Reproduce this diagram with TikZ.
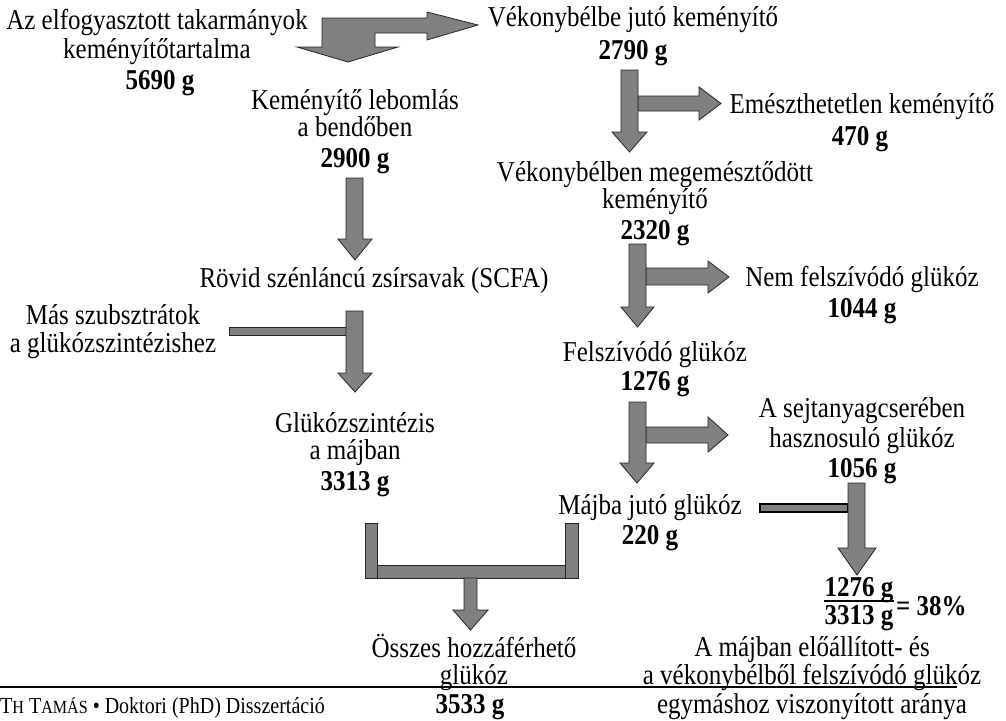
\documentclass[tikz,border=0pt]{standalone}
\usepackage{fontspec}
\setmainfont{Liberation Serif}
\newfontfamily\tallfont[FakeStretch=0.87]{Liberation Serif}
\definecolor{arrowgray}{RGB}{128,128,128}
\begin{document}
\begin{tikzpicture}[x=1pt,y=-1pt,
  txt/.style={anchor=base,inner sep=0pt,font=\tallfont\fontsize{28.75}{34}\selectfont},
  num/.style={anchor=base,inner sep=0pt,font=\tallfont\fontsize{28.75}{34}\selectfont\bfseries},
  foot/.style={anchor=base west,inner sep=0pt,font=\tallfont\fontsize{23}{27}\selectfont},
  blk/.style={fill=arrowgray,draw=black!85,line width=0.8pt,line join=miter},
  thinbar/.style={fill=arrowgray,draw=black,line width=1.4pt}]
\useasboundingbox (0,0) rectangle (1006,720);
% ---- texts
\node[txt] (t1a) at (157,29) {Az elfogyasztott takarmányok};
\node[txt] (t1b) at (157,58) {keményítőtartalma};
\node[num] (t1c) at (160,89) {5690 g};
\node[txt] (t2a) at (633,26) {Vékonybélbe jutó keményítő};
\node[num] (t2b) at (633,59) {2790 g};
\node[txt] (t3a) at (355,109) {Keményítő lebomlás};
\node[txt] (t3b) at (355,136) {a bendőben};
\node[num] (t3c) at (355,167) {2900 g};
\node[txt] (t4a) at (862,113) {Emészthetetlen keményítő};
\node[num] (t4b) at (860,145) {470 g};
\node[txt] (t5a) at (655,181) {Vékonybélben megemésztődött};
\node[txt] (t5b) at (655,208) {keményítő};
\node[num] (t5c) at (655,239) {2320 g};
\node[txt] (t6) at (374,287) {Rövid szénláncú zsírsavak (SCFA)};
\node[txt] (t7a) at (862,286) {Nem felszívódó glükóz};
\node[num] (t7b) at (862,317) {1044 g};
\node[txt] (t8a) at (113,324) {Más szubsztrátok};
\node[txt] (t8b) at (113,352) {a glükózszintézishez};
\node[txt] (t9a) at (655,361) {Felszívódó glükóz};
\node[num] (t9b) at (655,390) {1276 g};
\node[txt] (t10a) at (355,432) {Glükózszintézis};
\node[txt] (t10b) at (355,459) {a májban};
\node[num] (t10c) at (355,490) {3313 g};
\node[txt] (t11a) at (862,417) {A sejtanyagcserében};
\node[txt] (t11b) at (862,447) {hasznosuló glükóz};
\node[num] (t11c) at (862,477) {1056 g};
\node[txt] (t12a) at (650,514) {Májba jutó glükóz};
\node[num] (t12b) at (650,544) {220 g};
% fraction
\node[num] (fn) at (859,596) {1276 g};
\node[num] (fd) at (859,624) {3313 g};
\draw[line width=1.5pt] (fn.west |- 0,601) -- (fn.east |- 0,601);
\node[num,anchor=base west] (fe) at (896,615) {= 38\%};
\node[txt] (t14a) at (474,657) {Összes hozzáférhető};
\node[txt] (t14b) at (474,684) {glükóz};
\node[num] (t14c) at (470,713) {3533 g};
\node[txt] (t15a) at (812,656) {A májban előállított- és};
\node[txt] (t15b) at (812,684) {a vékonybélből felszívódó glükóz};
\node[txt] (t15c) at (812,713) {egymáshoz viszonyított aránya};
% footer
\draw[line width=2pt] (0,687) -- (957,687);
\node[foot] (ft) at (0,713) {T{\fontsize{18.5}{22}\selectfont H} T{\fontsize{18.5}{22}\selectfont AMÁS} • Doktori (PhD) Disszertáció};
% ---- block arrows
% top bent arrow
\draw[blk] (322,18) -- (427,18) -- (427,12) -- (478,25) -- (427,40) -- (427,33) -- (375,33) -- (375,47) -- (398,47) -- (348,62) -- (297,47) -- (322,47) -- cycle;
% 2790 branch
\draw[blk] (638,96) -- (699,96) -- (699,87) -- (721,103.5) -- (699,120) -- (699,111) -- (638,111) -- cycle;
\draw[blk] (621,70) -- (638,70) -- (638,132) -- (647,132) -- (629.5,152) -- (612,132) -- (621,132) -- cycle;
% 2900
\draw[blk] (346,178) -- (363,178) -- (363,239) -- (372,239) -- (355,260) -- (338,239) -- (346,239) -- cycle;
% SCFA
\draw[blk] (229,327) rectangle (346,335);
\draw[blk] (346,311) -- (363,311) -- (363,373) -- (372,373) -- (355,392) -- (338,373) -- (346,373) -- cycle;
% 2320 branch
\draw[blk] (646,268) -- (708,268) -- (708,261) -- (729,277) -- (708,293) -- (708,285) -- (646,285) -- cycle;
\draw[blk] (629,244) -- (646,244) -- (646,307) -- (654,307) -- (637.5,327) -- (621,307) -- (629,307) -- cycle;
% 1276 branch
\draw[blk] (646,427) -- (708,427) -- (708,417) -- (728,435) -- (708,452) -- (708,443) -- (646,443) -- cycle;
\draw[blk] (629,402) -- (646,402) -- (646,463) -- (654,463) -- (637,483) -- (620,463) -- (629,463) -- cycle;
% bracket
\draw[blk] (377,565) rectangle (565,578);
\draw[blk] (365,523) rectangle (377,578);
\draw[blk] (565,523) rectangle (578,578);
\draw[blk] (464,578) -- (477,578) -- (477,610) -- (488,610) -- (470.5,630) -- (453,610) -- (464,610) -- cycle;
% right bottom
\draw[thinbar] (760,504) rectangle (848,512);
\draw[blk] (848,483) -- (865,483) -- (865,548) -- (876,548) -- (857,575) -- (838,548) -- (848,548) -- cycle;
\end{tikzpicture}
\end{document}
